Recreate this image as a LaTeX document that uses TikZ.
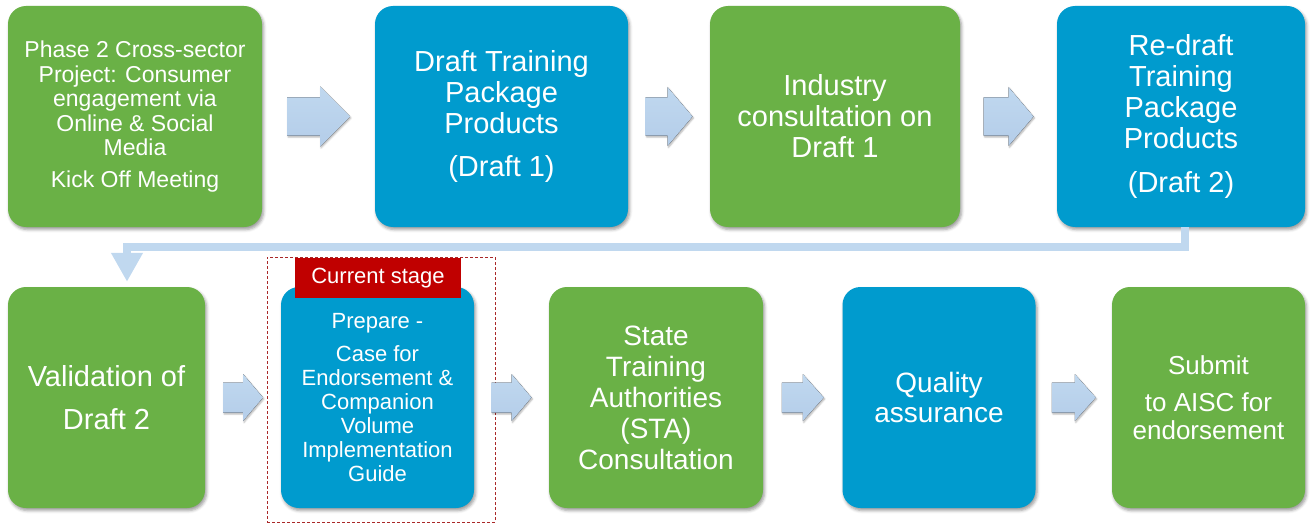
\documentclass[tikz,border=0pt]{standalone}
\usepackage{fontspec}
\setmainfont{Liberation Sans}
\usetikzlibrary{calc,arrows.meta,shadows.blur}
\definecolor{pgreen}{RGB}{106,177,70}
\definecolor{pblue}{RGB}{0,155,206}
\definecolor{arrblue}{RGB}{192,216,239}
\definecolor{arrdark}{RGB}{180,205,233}
\definecolor{labred}{RGB}{192,0,0}
\definecolor{dashred}{RGB}{170,40,40}
\newcommand\flowarrow[5]{%
  \begin{scope}[shift={(#1)}]
    \fill[arrfill] (-#2/2,-#4/2) -- (#2/2-#5,-#4/2) -- (#2/2-#5,-#3/2) -- (#2/2,0)
      -- (#2/2-#5,#3/2) -- (#2/2-#5,#4/2) -- (-#2/2,#4/2) -- cycle;
  \end{scope}}
\tikzset{
  box/.style={rounded corners=18pt, inner sep=0pt, text=white, align=center,
    minimum height=221pt,
    blur shadow={shadow xshift=1.5pt,shadow yshift=-2.5pt,shadow blur radius=3pt,shadow opacity=40}},
  gbox/.style={box, fill=pgreen},
  bbox/.style={box, fill=pblue},
  arrfill/.style={top color=arrblue, bottom color=arrdark,
    blur shadow={shadow xshift=1pt,shadow yshift=-1.5pt,shadow blur radius=1.5pt,shadow opacity=30}},
  conn/.style={draw=arrblue, line width=8pt, -{Triangle[width=30pt,length=29pt]}},
  curframe/.style={draw=dashred, line width=0.8pt, dash pattern=on 3pt off 2pt, inner sep=0pt},
  curlabel/.style={fill=labred, text=white, inner sep=0pt, font=\fontsize{22}{24}\selectfont}
}
\begin{document}
\begin{tikzpicture}[x=1pt,y=-1pt]
\useasboundingbox (0,0) rectangle (1313,524);
% top row
\node[gbox, minimum width=254pt, font=\fontsize{23}{24.5}\selectfont] (b1) at (135,116.5)
  {Phase 2 Cross-sector\\Project: Consumer\\engagement via\\Online \& Social\\Media\\[7pt]Kick Off Meeting};
\node[bbox, minimum width=253pt, font=\fontsize{29}{31}\selectfont] (b2) at (501.5,116.5)
  {Draft Training\\Package\\Products\\[12pt](Draft 1)};
\node[gbox, minimum width=250pt, font=\fontsize{29}{31}\selectfont] (b3) at (835,116.5)
  {Industry\\consultation on\\Draft 1};
\node[bbox, minimum width=248pt, font=\fontsize{29}{31}\selectfont] (b4) at (1181,116.5)
  {Re-draft\\Training\\Package\\Products\\[13pt](Draft 2)};
% bottom row
\node[gbox, minimum width=197pt, font=\fontsize{29}{43}\selectfont] (b5) at (106.5,397.5)
  {Validation of\\Draft 2};
\node[curframe, minimum width=228pt, minimum height=265pt] (frame) at (381,389.5) {};
\node[bbox, minimum width=193pt, font=\fontsize{22}{24}\selectfont] (b6) at (377.5,397.5)
  {Prepare -\\[9pt]Case for\\Endorsement \&\\Companion\\Volume\\Implementation\\Guide};
\node[curlabel, minimum width=166pt, minimum height=40pt] (lab) at (378,278) {Current stage};
\node[gbox, minimum width=214pt, font=\fontsize{28}{31}\selectfont] (b7) at (656,397.5)
  {State\\Training\\Authorities\\(STA)\\Consultation};
\node[bbox, minimum width=193pt, font=\fontsize{28}{30}\selectfont] (b8) at (939,397.5)
  {Quality\\assurance};
\node[gbox, minimum width=193pt, font=\fontsize{26}{28}\selectfont] (b9) at (1208.5,397.5)
  {Submit\\[9pt]to AISC for\\endorsement};
% block arrows between boxes
\path (b1.east) -- coordinate[midway] (a1) (b2.west);
\path (b2.east) -- coordinate[midway] (a2) (b3.west);
\path (b3.east) -- coordinate[midway] (a3) (b4.west);
\path (b5.east) -- coordinate[midway] (a4) (b6.west);
\path (b6.east) -- coordinate[midway] (a5) (b7.west);
\path (b7.east) -- coordinate[midway] (a6) (b8.west);
\path (b8.east) -- coordinate[midway] (a7) (b9.west);
\flowarrow{a1}{63}{60}{38}{30}
\flowarrow{a2}{47}{59}{38}{25}
\flowarrow{a3}{50}{59}{38}{25}
\flowarrow{a4}{40}{47}{30}{20}
\flowarrow{a5}{40}{47}{30}{20}
\flowarrow{a6}{42}{47}{30}{21}
\flowarrow{a7}{44}{47}{30}{21}
% connector from row 1 to row 2
\coordinate (elbow) at (127,247);
\draw[conn] ([xshift=4pt]b4.south) |- (elbow) -- ([xshift=20.5pt,yshift=5pt]b5.north);
\end{tikzpicture}
\end{document}
